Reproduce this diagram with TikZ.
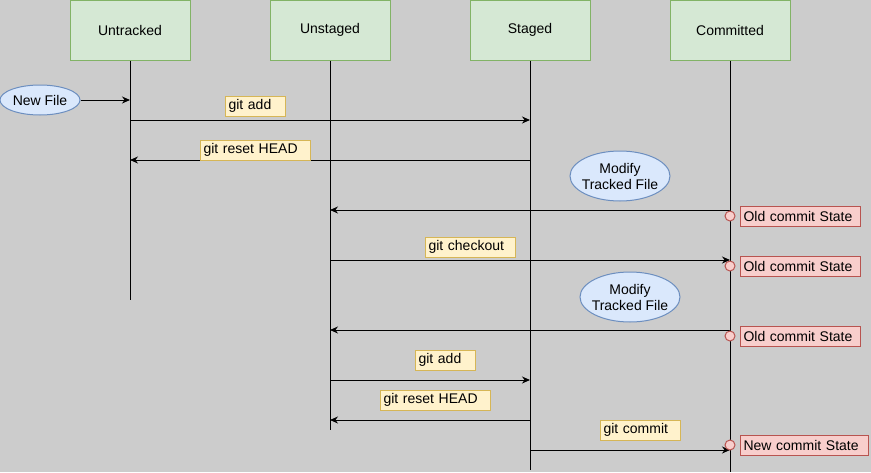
\documentclass[tikz,border=0pt]{standalone}
\usepackage{fontspec}
\setmainfont{Liberation Sans}
\usetikzlibrary{arrows.meta,shapes.geometric}
\definecolor{bggray}{HTML}{CCCCCC}
\definecolor{stfill}{HTML}{D5E8D4}
\definecolor{stdraw}{HTML}{82B366}
\definecolor{evfill}{HTML}{DAE8FC}
\definecolor{evdraw}{HTML}{6C8EBF}
\definecolor{cmdfill}{HTML}{FFF2CC}
\definecolor{cmddraw}{HTML}{D6B656}
\definecolor{cofill}{HTML}{F8CECC}
\definecolor{codraw}{HTML}{B85450}
\begin{document}
\begin{tikzpicture}[
    x=1pt, y=-1pt,
    font=\fontsize{14}{16}\selectfont,
    state/.style={draw=stdraw, fill=stfill, line width=1pt, minimum width=120pt, minimum height=60pt},
    event/.style={ellipse, draw=evdraw, fill=evfill, line width=1pt, inner sep=-4pt, align=center},
    cmd/.style={draw=cmddraw, fill=cmdfill, line width=1pt, anchor=west, text width=#1, align=left, inner xsep=3pt, inner ysep=0pt, minimum height=20pt},
    commit/.style={draw=codraw, fill=cofill, line width=1pt, anchor=west, text width=#1, align=left, inner xsep=3pt, inner ysep=0pt, minimum height=20pt},
    dot/.style={circle, draw=codraw, fill=cofill, line width=1pt, minimum size=10pt, inner sep=0pt},
    lifeline/.style={line width=1pt},
    msg/.style={line width=1pt, -{Stealth[length=8pt,width=7pt]}}
]
    % Background
    \fill[bggray] (0,0) rectangle (871,472);
    \useasboundingbox (0,0) rectangle (871,472);

    % File states
    \node[state] (ut) at (130,30) {Untracked};
    \node[state] (us) at (330,30) {Unstaged};
    \node[state] (st) at (530,30) {Staged};
    \node[state] (cm) at (730,30) {Committed};

    % Lifelines
    \foreach \n/\e in {ut/300, us/430, st/470, cm/472} {
        \coordinate (\n-end) at (\n.south |- 0,\e);
        \draw[lifeline] (\n.south) -- (\n-end);
    }
    \foreach \n in {ut,us,st,cm} {
        \foreach \y in {100,120,160,210,260,330,380,420,450} {
            \coordinate (\n-\y) at (\n.south |- 0,\y);
        }
    }

    % Events
    \node[event, minimum width=80pt, minimum height=30pt] (newfile) at (40,100) {New File};
    \node[event, minimum width=100pt, minimum height=50pt] (modify1) at (620,176) {Modify\\Tracked File};
    \node[event, minimum width=100pt, minimum height=50pt] (modify2) at (630,297) {Modify\\Tracked File};

    % Transitions
    \draw[msg] (newfile) -- (ut-100);
    \draw[msg] (ut-120) -- (st-120);
    \draw[msg] (st-160) -- (ut-160);
    \draw[msg] (cm-210) -- (us-210);
    \draw[msg] (us-260) -- (cm-260);
    \draw[msg] (cm-330) -- (us-330);
    \draw[msg] (us-380) -- (st-380);
    \draw[msg] (st-420) -- (us-420);
    \draw[msg] (st-450) -- (cm-450);

    % Git commands
    \node[cmd=54pt] (add1) at (225,106) {git add};
    \node[cmd=104pt] (reset1) at (200,150) {git reset HEAD};
    \node[cmd=84pt] (checkout) at (425,247) {git checkout};
    \node[cmd=54pt] (add2) at (415,360) {git add};
    \node[cmd=104pt] (reset2) at (380,400) {git reset HEAD};
    \node[cmd=74pt] (commit) at (600,430) {git commit};

    % Commit states
    \foreach \y [count=\i] in {216,266,336} {
        \node[dot] (dot\i) at (cm.south |- 0,\y) {};
        \node[commit=114pt] (old\i) at (740,\y) {Old commit State};
    }
    \node[dot] (dot4) at (cm.south |- 0,445) {};
    \node[commit=122pt] (new) at (740,445) {New commit State};

\end{tikzpicture}
\end{document}
